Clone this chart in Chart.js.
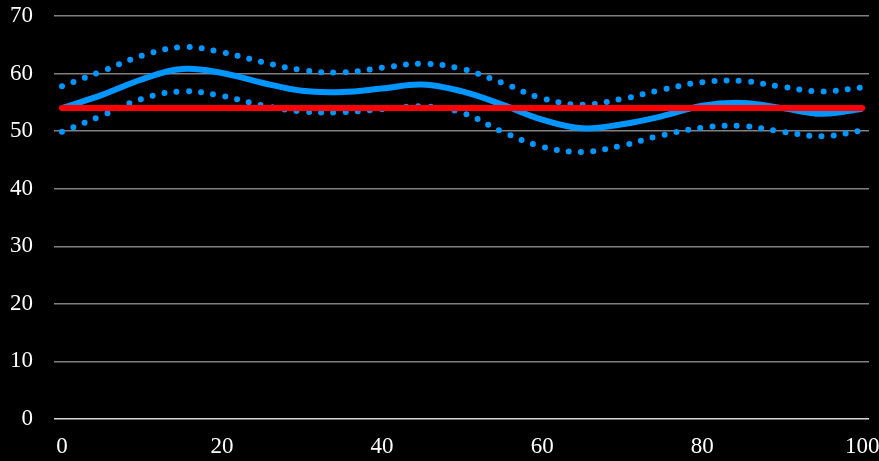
<!DOCTYPE html>
<html>
<head>
<meta charset="utf-8">
<script src="https://cdn.jsdelivr.net/npm/chart.js@4"></script>
<style>
  html, body { margin: 0; padding: 0; background: #000; }
  #wrap { width: 879px; height: 461px; }
</style>
</head>
<body>
<div id="wrap"><canvas id="bandChart"></canvas></div>
<script>
// values
let xValues = [0, 5, 10, 15, 20, 25, 30, 35, 40, 45, 50, 55, 60, 65, 70, 75, 80, 85, 90, 95, 100];
let meanLine = [54.0, 56.3, 59.0, 60.8, 60.1, 58.4, 57.0, 56.8, 57.4, 58.1, 56.9, 54.6, 52.0, 50.5, 51.2, 52.6, 54.4, 54.9, 54.0, 53.0, 53.9];
let upperBand = [57.8, 60.4, 63.1, 64.6, 63.7, 62.0, 60.6, 60.2, 61.0, 61.7, 60.8, 58.4, 55.7, 54.6, 55.6, 57.2, 58.5, 58.7, 57.7, 56.9, 57.6];
let lowerBand = [49.9, 52.7, 55.6, 56.9, 56.1, 54.5, 53.4, 53.3, 53.8, 54.3, 53.2, 49.9, 47.3, 46.4, 47.5, 49.3, 50.6, 50.9, 49.9, 49.1, 50.1];
let baseline = 54;
let xTicks = [0, 20, 40, 60, 80, 100];
let yTicks = [0, 10, 20, 30, 40, 50, 60, 70];

function points(arr) {
  return xValues.map((x, i) => ({ x: x, y: arr[i] }));
}

let blue = 'rgb(0,150,255)';
let tickFont = { family: 'Liberation Serif', size: 23 };

let bgPlugin = {
  id: 'bg',
  beforeDraw(chart) {
    let c = chart.ctx;
    c.save();
    c.fillStyle = '#000';
    c.fillRect(0, 0, chart.width, chart.height);
    c.restore();
  }
};

let ctx = document.getElementById('bandChart').getContext('2d');

let bandChart = new Chart(ctx, {
  type: 'line',
  data: {
    datasets: [{
      label: 'baseline',
      data: [{ x: 0, y: baseline }, { x: 100, y: baseline }],
      borderColor: '#ff0000',
      borderWidth: 6,
      borderCapStyle: 'round',
      pointRadius: 0,
      order: 0
    }, {
      label: 'mean',
      data: points(meanLine),
      borderColor: blue,
      borderWidth: 6,
      tension: 0.4,
      pointRadius: 0,
      order: 1
    }, {
      label: 'upper',
      data: points(upperBand),
      borderColor: blue,
      borderWidth: 6,
      borderDash: [0, 12.2],
      borderCapStyle: 'round',
      tension: 0.4,
      pointRadius: 0,
      order: 2
    }, {
      label: 'lower',
      data: points(lowerBand),
      borderColor: blue,
      borderWidth: 6,
      borderDash: [0, 12.2],
      borderCapStyle: 'round',
      tension: 0.4,
      pointRadius: 0,
      order: 3
    }]
  },
  options: {
    responsive: true,
    maintainAspectRatio: false,
    animation: false,
    layout: { padding: { top: 16, right: 10, left: 0, bottom: 0 } },
    plugins: {
      legend: { display: false },
      tooltip: { enabled: false }
    },
    scales: {
      x: {
        type: 'linear',
        min: -1,
        max: 100.84,
        afterBuildTicks(scale) { scale.ticks = xTicks.map(v => ({ value: v })); },
        afterFit(scale) {
          scale.height = 42;
          scale.paddingLeft = 0;
          scale.paddingRight = 0;
        },
        grid: { display: false },
        border: { display: false },
        ticks: { color: '#fff', font: tickFont, padding: 6, maxRotation: 0 }
      },
      y: {
        min: 0,
        max: 70,
        afterBuildTicks(scale) { scale.ticks = yTicks.map(v => ({ value: v })); },
        afterFit(scale) {
          scale.width = 54;
          scale.paddingTop = 0;
          scale.paddingBottom = 0;
        },
        grid: {
          drawTicks: false,
          color: c => c.tick && c.tick.value === 0 ? '#d9d9d9' : '#808080',
          lineWidth: 1.5
        },
        border: { display: false },
        ticks: { color: '#fff', font: tickFont, padding: 21 }
      }
    }
  },
  plugins: [bgPlugin]
});
</script>
</body>
</html>
